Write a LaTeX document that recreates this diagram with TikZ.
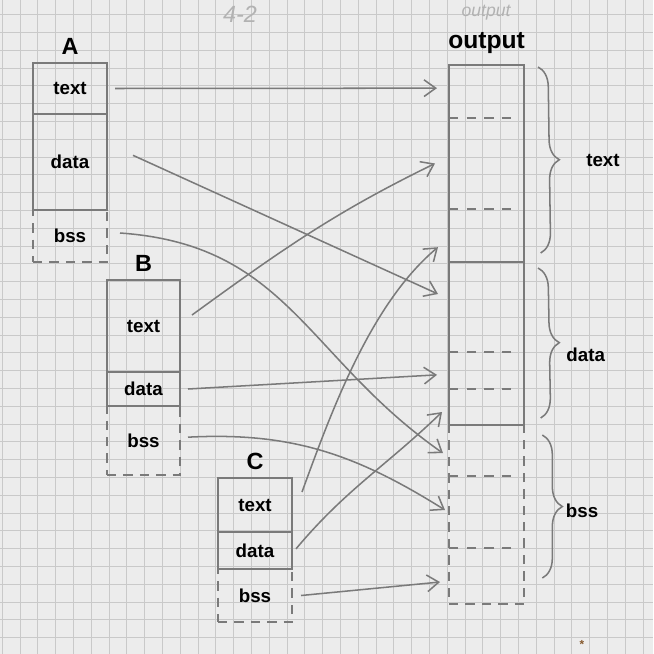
\documentclass[tikz,border=0pt]{standalone}
\usepackage{fontspec}
\setmainfont{Liberation Sans}
\usetikzlibrary{arrows.meta,positioning,fit,decorations.pathreplacing}
\definecolor{pencil}{gray}{0.48}
\definecolor{faint}{gray}{0.70}
\definecolor{paper}{gray}{0.925}
\definecolor{gridgray}{gray}{0.79}
\tikzset{
    segbox/.style={draw=pencil, line width=1.3pt, inner sep=0pt, outer sep=0pt,
        font=\fontsize{16}{18}\selectfont\bfseries},
    bssbox/.style={segbox, dash pattern=on 8pt off 6pt},
    slice/.style={inner sep=0pt, outer sep=0pt, minimum width=2.25cm},
    seprule/.style={draw=pencil, line width=1.3pt, dash pattern=on 8pt off 7pt},
    grplabel/.style={inner sep=1pt, font=\fontsize{20}{22}\selectfont\bfseries},
    sidelabel/.style={inner sep=1pt, font=\fontsize{16}{18}\selectfont\bfseries},
    segarrow/.style={draw=pencil, line width=1.3pt,
        -{Straight Barb[length=3.5mm,width=5mm]}},
    segbrace/.style={draw=pencil, line width=1.3pt,
        decorate, decoration={brace, amplitude=0.6cm}},
    gridline/.style={draw=gridgray, line width=0.6pt}
}

\begin{document}
\begin{tikzpicture}[x=0.03cm, y=-0.03cm, node distance=0pt]
% graph paper
\useasboundingbox (0,0) rectangle (653,654);
\clip (0,0) rectangle (653,654);
\fill[paper] (0,0) rectangle (653,654);
\foreach \gx in {0,...,36}
    \draw[gridline] ({2.2+17.8*\gx},0) -- ({2.2+17.8*\gx},654);
\foreach \gy in {0,...,35}
    \draw[gridline] (0,{14.6+17.8*\gy}) -- (653,{14.6+17.8*\gy});
\node[faint, font=\fontsize{20}{22}\selectfont\itshape] (pagenum) at (240,14) {4-2};
\node[faint, font=\fontsize{15}{17}\selectfont\itshape] (outnote) at (486,13) {output};

% object A
\node[segbox, anchor=north west, minimum width=2.22cm, minimum height=1.53cm] (Atext) at (33,63) {text};
\node[segbox, below=of Atext, minimum width=2.22cm, minimum height=2.88cm] (Adata) {data};
\node[bssbox, below=of Adata, minimum width=2.22cm, minimum height=1.56cm] (Abss) {bss};
\node[grplabel, above=0.2cm of Atext] (labA) {A};

% object B
\node[segbox, anchor=north west, minimum width=2.19cm, minimum height=2.76cm] (Btext) at (107,280) {text};
\node[segbox, below=of Btext, minimum width=2.19cm, minimum height=1.02cm] (Bdata) {data};
\node[bssbox, below=of Bdata, minimum width=2.19cm, minimum height=2.07cm] (Bbss) {bss};
\node[grplabel, above=0.2cm of Btext] (labB) {B};

% object C
\node[segbox, anchor=north west, minimum width=2.22cm, minimum height=1.62cm] (Ctext) at (218,478) {text};
\node[segbox, below=of Ctext, minimum width=2.22cm, minimum height=1.11cm] (Cdata) {data};
\node[bssbox, below=of Cdata, minimum width=2.22cm, minimum height=1.59cm] (Cbss) {bss};
\node[grplabel, above=0.2cm of Ctext] (labC) {C};

% output slices
\node[slice, anchor=north west, minimum height=1.59cm] (oAtext) at (449,65) {};
\node[slice, below=of oAtext, minimum height=2.73cm] (oBtext) {};
\node[slice, below=of oBtext, minimum height=1.59cm] (oCtext) {};
\node[slice, below=of oCtext, minimum height=2.70cm] (oAdata) {};
\node[slice, below=of oAdata, minimum height=1.11cm] (oBdata) {};
\node[slice, below=of oBdata, minimum height=1.08cm] (oCdata) {};
\node[slice, below=of oCdata, minimum height=1.53cm] (oAbss) {};
\node[slice, below=of oAbss, minimum height=2.16cm] (oBbss) {};
\node[slice, below=of oBbss, minimum height=1.68cm] (oCbss) {};
\node[segbox, fit=(oAtext)(oCtext)] (outtext) {};
\node[segbox, fit=(oAdata)(oCdata)] (outdata) {};
\node[bssbox, fit=(oAbss)(oCbss)] (outbss) {};
\node[grplabel, font=\fontsize{21}{23}\selectfont\bfseries, above=0.3cm of outtext] (outlabel) {output};
\draw[seprule] (oBtext.north west) -- ([xshift=-0.25cm]oBtext.north east);
\draw[seprule] (oCtext.north west) -- ([xshift=-0.25cm]oCtext.north east);
\draw[seprule] (oBdata.north west) -- ([xshift=-0.25cm]oBdata.north east);
\draw[seprule] (oCdata.north west) -- ([xshift=-0.25cm]oCdata.north east);
\draw[seprule] (oBbss.north west) -- ([xshift=-0.25cm]oBbss.north east);
\draw[seprule] (oCbss.north west) -- ([xshift=-0.25cm]oCbss.north east);

% where each piece goes
\draw[segarrow] ([xshift=0.24cm]Atext.east) -- ([shift={(-0.36cm,0.1cm)}]oAtext.west);
\draw[segarrow] ([shift={(0.78cm,0.2cm)}]Adata.east) -- ([shift={(-0.33cm,0.39cm)}]oAdata.west);
\draw[segarrow] ([shift={(0.39cm,0.09cm)}]Abss.east) to[out=-4,in=145,looseness=1.1] ([shift={(-0.18cm,-0.08cm)}]oAbss.west);
\draw[segarrow] ([shift={(0.36cm,0.33cm)}]Btext.east) to[out=36,in=206] ([shift={(-0.42cm,0cm)}]oBtext.west);
\draw[segarrow] ([xshift=0.24cm]Bdata.east) -- ([shift={(-0.36cm,-0.13cm)}]oBdata.west);
\draw[segarrow] ([shift={(0.24cm,0.1cm)}]Bbss.east) to[out=3,in=148] ([shift={(-0.12cm,0.06cm)}]oBbss.west);
\draw[segarrow] ([shift={(0.3cm,0.39cm)}]Ctext.east) to[out=70,in=-140,looseness=0.8] ([shift={(-0.33cm,-0.35cm)}]oCtext.west);
\draw[segarrow] ([shift={(0.12cm,0.05cm)}]Cdata.east) to[out=50,in=-136] ([shift={(-0.21cm,-0.15cm)}]oCdata.west);
\draw[segarrow] ([xshift=0.27cm]Cbss.east) -- ([shift={(-0.27cm,-0.18cm)}]oCbss.west);

% braces
\draw[segbrace] ([shift={(0.42cm,-0.06cm)}]outtext.north east) -- ([shift={(0.5cm,0.27cm)}]outtext.south east)
    node[sidelabel, midway, right=1.35cm] (ltext) {text};
\draw[segbrace] ([shift={(0.42cm,-0.18cm)}]outdata.north east) -- ([shift={(0.5cm,0.21cm)}]outdata.south east)
    node[sidelabel, pos=0.58, right=0.75cm] (ldata) {data};
\draw[segbrace] ([shift={(0.55cm,-0.3cm)}]outbss.north east) -- ([shift={(0.55cm,0.78cm)}]outbss.south east)
    node[sidelabel, pos=0.53, right=0.65cm] (lbss) {bss};
\node[text=brown!70!black, font=\normalsize\bfseries] (mark) at (582,644) {*};
\end{tikzpicture}
\end{document}
